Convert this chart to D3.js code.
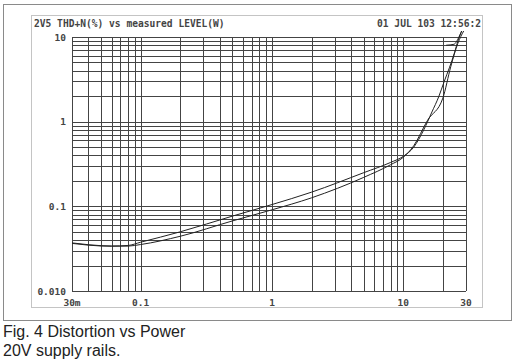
<!DOCTYPE html>
<html>
<head>
<meta charset="utf-8">
<script src="https://cdn.jsdelivr.net/npm/d3@7"></script>
<style>
  body { margin: 0; background: #fff; }
  svg { display: block; }
  .mono { font-family: "DejaVu Sans Mono", "Liberation Mono", monospace; fill: #444; }
  .caption { font-family: "Liberation Sans", Arial, sans-serif; fill: #222; font-size: 16px; }
</style>
</head>
<body>
<svg id="chart" width="520" height="362"></svg>
<script>
// header texts
const titleText = "2V5 THD+N(%) vs measured LEVEL(W)";
const dateText = "01 JUL 103 12:56:2";
const captionLines = ["Fig. 4 Distortion vs Power", "20V supply rails."];

// axis ticks
const xTickVals = [0.03, 0.1, 1, 10, 30];
const xTickLabels = ["30m", "0.1", "1", "10", "30"];
const yTickVals = [10, 1, 0.1, 0.01];
const yTickLabels = ["10", "1", "0.1", "0.010"];

// measured curves: power (W) and THD+N (%)
const powerA = [0.03, 0.04, 0.05, 0.06, 0.08, 0.1, 0.2, 0.5, 1, 2, 5, 8, 10, 12, 14.3, 16.5, 18.6, 20.5, 22.5, 24.5, 26.1, 28];
const thdA   = [0.037, 0.0352, 0.0343, 0.034, 0.0345, 0.0377, 0.050, 0.0767, 0.105, 0.147, 0.25, 0.33, 0.39, 0.5, 0.8, 1.3, 1.97, 3.0, 4.4, 6.5, 9.1, 12];
const powerB = [0.03, 0.04, 0.05, 0.06, 0.08, 0.1, 0.2, 0.5, 1, 2, 5, 8, 10, 12, 15.3, 20, 23, 26, 29];
const thdB   = [0.0365, 0.0348, 0.034, 0.0338, 0.0339, 0.0354, 0.0443, 0.0673, 0.091, 0.126, 0.22, 0.31, 0.38, 0.52, 1.04, 1.9, 4.5, 8.4, 12];
const powerC = [21.2, 24.3, 26.5, 28.5];
const thdC   = [8.0, 8.2, 10, 13];

const svg = d3.select("#chart");

// outer frame and inner dotted frame
svg.append("rect").attr("x", 3.5).attr("y", 4.5).attr("width", 508).attr("height", 316)
    .attr("fill", "none").attr("stroke", "#8a8a8a");
svg.append("rect").attr("x", 31.5).attr("y", 15.5).attr("width", 451).attr("height", 292)
    .attr("fill", "none").attr("stroke", "#888").attr("stroke-dasharray", "1,1");

const plotLeft = 72, plotRight = 466, plotTop = 37, plotBottom = 291;

const x = d3.scaleLog().domain([0.03, 30]).range([plotLeft, plotRight]);
const y = d3.scaleLog().domain([0.01, 10]).range([plotBottom, plotTop]);

// grid
const grid = svg.append("g").attr("stroke", "#444").attr("stroke-width", 1).attr("shape-rendering", "crispEdges");
grid.selectAll(".vx").data(x.ticks()).join("line")
    .attr("x1", d => Math.round(x(d)) + 0.5).attr("x2", d => Math.round(x(d)) + 0.5)
    .attr("y1", plotTop).attr("y2", plotBottom);
grid.selectAll(".hy").data(y.ticks()).join("line")
    .attr("y1", d => Math.round(y(d)) + 0.5).attr("y2", d => Math.round(y(d)) + 0.5)
    .attr("x1", plotLeft).attr("x2", plotRight);

// tick labels
svg.selectAll(".xl").data(xTickVals).join("text")
    .attr("class", "mono")
    .attr("x", d => x(d)).attr("y", 306)
    .attr("text-anchor", "middle").attr("font-size", "9.5px").attr("font-weight", "bold")
    .text((d, i) => xTickLabels[i]);
svg.selectAll(".yl").data(yTickVals).join("text")
    .attr("class", "mono")
    .attr("x", 66).attr("y", d => y(d) + 3.5)
    .attr("text-anchor", "end").attr("font-size", "9.5px").attr("font-weight", "bold")
    .text((d, i) => yTickLabels[i]);

// header
svg.append("text").attr("class", "mono").attr("x", 34).attr("y", 27)
    .attr("font-size", "9.6px").attr("font-weight", "bold").text(titleText);
svg.append("text").attr("class", "mono").attr("x", 481).attr("y", 27)
    .attr("text-anchor", "end").attr("font-size", "9.6px").attr("font-weight", "bold").text(dateText);

// curves
svg.append("clipPath").attr("id", "clip")
    .append("rect").attr("x", plotLeft).attr("y", 31).attr("width", plotRight - plotLeft).attr("height", plotBottom - 31);

const line = d3.line().x(d => x(d[0])).y(d => y(d[1])).curve(d3.curveMonotoneX);
const series = [
    d3.zip(powerA, thdA),
    d3.zip(powerB, thdB),
    d3.zip(powerC, thdC)
];
svg.append("g").attr("clip-path", "url(#clip)")
    .selectAll("path").data(series).join("path")
    .attr("d", line)
    .attr("fill", "none").attr("stroke", "#222").attr("stroke-width", 1);

// caption
captionLines.forEach((t, i) => {
    svg.append("text").attr("class", "caption").attr("x", 3).attr("y", 337 + i * 19).text(t);
});
</script>
</body>
</html>
